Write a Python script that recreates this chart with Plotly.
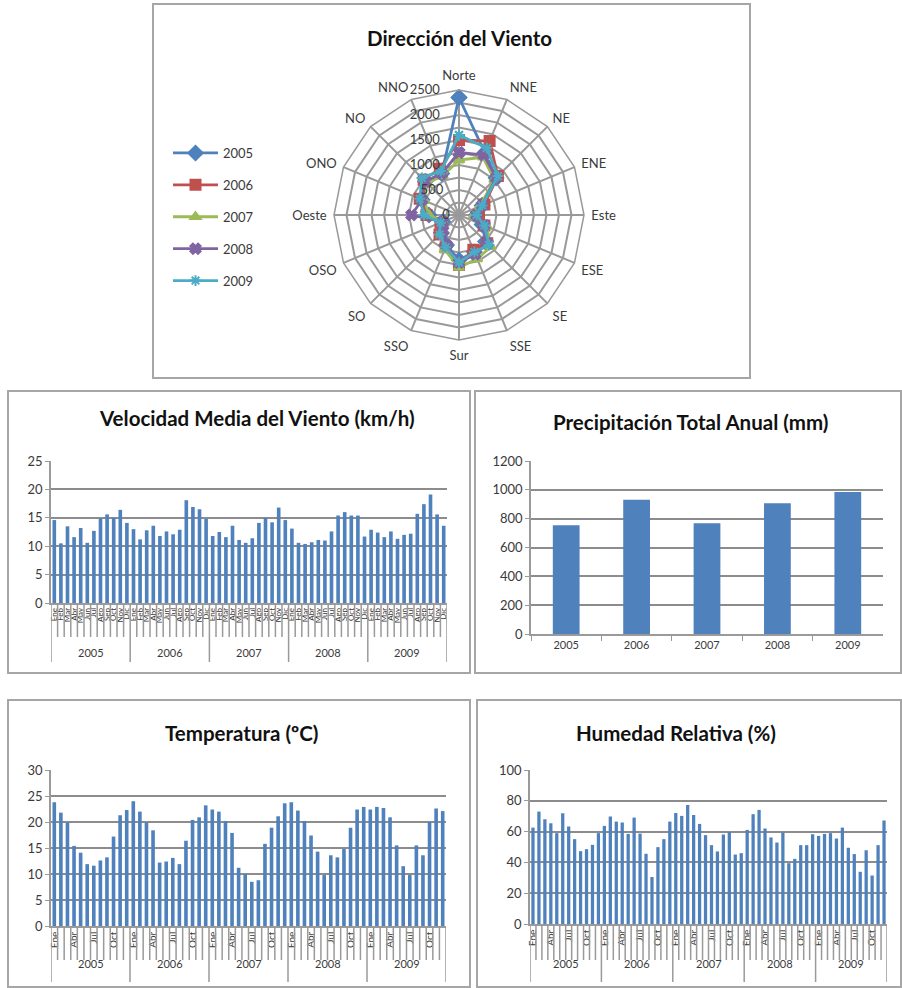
import plotly.graph_objects as go

W, H = 902, 988
def px(x):
    return x / W
def py(y):
    return 1 - y / H

# ---------------- data ----------------
DIRECTIONS = ["Norte", "NNE", "NE", "ENE", "Este", "ESE", "SE", "SSE",
              "Sur", "SSO", "SO", "OSO", "Oeste", "ONO", "NO", "NNO"]
YEARS = ["2005", "2006", "2007", "2008", "2009"]
MONTHS = ["Ene", "Feb", "Mar", "Abr", "May", "Jun", "Jul", "Ago", "Sep", "Oct", "Nov", "Dic"]

DIR_2005 = [2350, 1350, 1050, 500, 350, 500, 750, 800, 900, 650, 500, 350, 600, 800, 950, 900]
DIR_2006 = [1500, 1600, 1100, 550, 400, 550, 800, 750, 1000, 700, 550, 400, 650, 850, 1000, 1000]
DIR_2007 = [1100, 1250, 1000, 450, 300, 600, 900, 950, 1050, 750, 500, 350, 600, 750, 900, 850]
DIR_2008 = [1250, 1300, 1050, 500, 350, 550, 800, 850, 950, 650, 450, 350, 950, 800, 950, 900]
DIR_2009 = [1600, 1450, 1100, 500, 350, 550, 850, 800, 950, 700, 550, 400, 700, 850, 1050, 950]

RADIAL_TICKS = [0, 250, 500, 750, 1000, 1250, 1500, 1750, 2000, 2250, 2500]
RADIAL_LABELS = ["0", "", "500", "", "1000", "", "1500", "", "2000", "", "2500"]

WIND_SPEED = [14.6, 10.5, 13.5, 11.6, 13.2, 10.6, 12.7, 14.9, 15.6, 15.0, 16.4, 14.1,
              13.0, 11.2, 12.8, 13.6, 11.8, 12.6, 12.1, 12.9, 18.1, 16.9, 16.5, 14.8,
              11.8, 12.5, 11.6, 13.6, 11.1, 10.6, 11.4, 14.1, 15.0, 14.2, 16.8, 14.6,
              13.1, 10.6, 10.4, 10.7, 11.1, 11.0, 12.6, 15.4, 16.0, 15.4, 15.4, 11.7,
              12.9, 12.4, 11.6, 12.6, 11.3, 12.0, 12.2, 15.7, 17.4, 19.1, 15.6, 13.6]

PRECIP = [755, 932, 768, 907, 985]

TEMPERATURE = [23.8, 21.8, 19.9, 15.4, 14.1, 11.9, 11.6, 12.6, 13.2, 17.2, 21.3, 22.3,
               24.0, 22.0, 19.9, 18.4, 12.2, 12.4, 13.1, 11.9, 16.4, 20.4, 20.9, 23.2,
               22.4, 22.0, 20.2, 17.9, 11.2, 10.0, 8.5, 8.8, 15.8, 18.9, 21.1, 23.6,
               23.8, 22.2, 20.2, 17.4, 14.3, 9.8, 13.6, 13.2, 14.8, 18.9, 22.4, 22.9,
               22.4, 22.9, 22.7, 20.9, 15.5, 11.5, 9.8, 15.5, 13.6, 20.0, 22.6, 22.1]

HUMIDITY = [62.6, 73.0, 68.0, 65.4, 59.0, 71.9, 63.3, 55.1, 47.3, 48.6, 51.4, 59.0,
            63.7, 69.8, 66.5, 65.9, 58.5, 69.1, 58.7, 45.6, 30.5, 49.9, 55.1, 66.5,
            72.1, 70.2, 77.3, 70.8, 65.0, 57.7, 51.2, 47.1, 58.1, 59.8, 45.1, 46.0,
            61.1, 71.3, 74.1, 62.0, 56.2, 52.9, 59.4, 39.5, 42.3, 51.2, 51.2, 58.3,
            57.2, 58.5, 59.0, 55.5, 62.6, 49.5, 45.4, 33.9, 47.9, 31.5, 51.2, 67.2]

# ---------------- styles ----------------
FONT = "Lato"
BAR_COLOR = "#4F81BD"
GRID = "#8c8c8c"
AXIS = "#9a9a9a"
TXT = "#3a3a3a"
SERIES_COLORS = ["#4F81BD", "#C0504D", "#9BBB59", "#8064A2", "#4BACC6"]
SERIES_SYMBOLS = ["diamond", "square", "triangle-up", "x", "asterisk-open"]
SERIES_SIZES = [11, 10, 9, 9, 9]

fig = go.Figure()

# ---------------- radar ----------------
for yr, vals, col, sym, sz in zip(YEARS, [DIR_2005, DIR_2006, DIR_2007, DIR_2008, DIR_2009],
                                   SERIES_COLORS, SERIES_SYMBOLS, SERIES_SIZES):
    fig.add_trace(go.Scatterpolar(
        r=vals + [vals[0]], theta=DIRECTIONS + [DIRECTIONS[0]],
        mode="lines+markers", name=yr, legendgroup=yr,
        line=dict(color=col, width=2.8),
        marker=dict(symbol=sym, size=sz, color=col, line=dict(color=col, width=2)),
        subplot="polar"))

# ---------------- bars ----------------
idx = list(range(len(WIND_SPEED)))
fig.add_trace(go.Bar(x=idx, y=WIND_SPEED, xaxis="x", yaxis="y", width=0.55,
                     marker=dict(color=BAR_COLOR), showlegend=False))
fig.add_trace(go.Bar(x=YEARS, y=PRECIP, xaxis="x2", yaxis="y2", width=0.38,
                     marker=dict(color=BAR_COLOR), showlegend=False))
fig.add_trace(go.Bar(x=list(range(len(TEMPERATURE))), y=TEMPERATURE, xaxis="x3", yaxis="y3",
                     width=0.55, marker=dict(color=BAR_COLOR), showlegend=False))
fig.add_trace(go.Bar(x=list(range(len(HUMIDITY))), y=HUMIDITY, xaxis="x4", yaxis="y4",
                     width=0.55, marker=dict(color=BAR_COLOR), showlegend=False))

def yax(domain, rng, dtick, anchor):
    return dict(domain=domain, range=rng, dtick=dtick, anchor=anchor, automargin=False,
                showgrid=True, gridcolor=GRID, gridwidth=1.5,
                showline=True, linecolor=AXIS, linewidth=1.5,
                ticks="outside", ticklen=4, tickcolor=AXIS,
                tickfont=dict(size=13, color=TXT, family=FONT), zeroline=False, fixedrange=True)

n = len(TEMPERATURE)
all_vals = list(range(n))
all_text = [MONTHS[i % 12] for i in range(n)]
q_vals = [i for i in range(n) if i % 3 == 0]
q_text = [MONTHS[i % 12] for i in q_vals]

def xmonth(domain, anchor, tv, tt, fs):
    return dict(domain=domain, anchor=anchor, range=[-0.5, n - 0.5], automargin=False,
                tickmode="array", tickvals=tv, ticktext=tt, tickangle=-90,
                tickfont=dict(size=fs, color=TXT, family=FONT),
                showgrid=False, zeroline=False, showline=True, linecolor=AXIS,
                linewidth=1.5, ticks="", fixedrange=True)

# radial labels sit to the left of the north spoke (right-aligned against it)
NBSP = "\u00a0"
radial_text = [t + NBSP * (round((7.5 * len(t) + 6) / 7) if t else 0) for t in RADIAL_LABELS]

# pixel geometry of each panel's plot area
WS = dict(x0=51, x1=447, y0=603, y1=461, mrow=637, yrow=662, ylab=652)
PR = dict(x0=531, x1=883, y0=634, y1=461)
TE = dict(x0=51, x1=446, y0=926, y1=770, mrow=960, yrow=982, ylab=972)
HU = dict(x0=530, x1=887, y0=924, y1=770, mrow=960, yrow=982, ylab=972)

layout = dict(
    width=W, height=H, margin=dict(l=0, r=0, t=0, b=0, pad=0, autoexpand=False),
    template="none",
    paper_bgcolor="white", plot_bgcolor="rgba(0,0,0,0)",
    font=dict(family=FONT, color=TXT),
    bargap=0.4,
    xaxis=xmonth([px(WS["x0"]), px(WS["x1"])], "y", all_vals, all_text, 8),
    yaxis=yax([py(WS["y0"]), py(WS["y1"])], [0, 25], 5, "x"),
    xaxis2=dict(domain=[px(PR["x0"]), px(PR["x1"])], anchor="y2", type="category",
                automargin=False,
                tickson="boundaries", ticks="outside", ticklen=5, tickcolor=AXIS,
                showline=True, linecolor=AXIS, linewidth=1.5, showgrid=False,
                tickfont=dict(size=11, color=TXT, family=FONT), fixedrange=True),
    yaxis2=yax([py(PR["y0"]), py(PR["y1"])], [0, 1200], 200, "x2"),
    xaxis3=xmonth([px(TE["x0"]), px(TE["x1"])], "y3", q_vals, q_text, 10),
    yaxis3=yax([py(TE["y0"]), py(TE["y1"])], [0, 30], 5, "x3"),
    xaxis4=xmonth([px(HU["x0"]), px(HU["x1"])], "y4", q_vals, q_text, 10),
    yaxis4=yax([py(HU["y0"]), py(HU["y1"])], [0, 100], 20, "x4"),
    polar=dict(
        domain=dict(x=[px(334), px(584)], y=[py(340), py(90)]),
        gridshape="linear", bgcolor="rgba(0,0,0,0)",
        angularaxis=dict(rotation=90, direction="clockwise", type="category",
                         categoryorder="array", categoryarray=DIRECTIONS,
                         gridcolor="#999999", gridwidth=1.5, showline=True,
                         linecolor="#999999", linewidth=1.5,
                         ticks="outside", ticklen=4, tickcolor="rgba(0,0,0,0)",
                         tickfont=dict(size=13, color=TXT, family=FONT)),
        radialaxis=dict(range=[0, 2500], tickmode="array", tickvals=RADIAL_TICKS,
                        ticktext=radial_text, angle=90, tickangle=90,
                        side="counterclockwise", gridcolor="#999999", gridwidth=1.5,
                        showline=False, ticks="",
                        tickfont=dict(size=13, color=TXT, family=FONT)),
    ),
    legend=dict(x=px(168), y=py(138), xanchor="left", yanchor="top",
                font=dict(size=13, color=TXT, family=FONT), tracegroupgap=12,
                itemwidth=45, bgcolor="rgba(0,0,0,0)", borderwidth=0),
)

shapes = []
# panel borders
for (x0, y0, x1, y1) in [(153, 4, 750, 378), (8, 391, 470, 673), (475, 391, 901, 673),
                         (8, 700, 470, 987), (477, 700, 901, 987)]:
    shapes.append(dict(type="rect", xref="paper", yref="paper",
                       x0=px(x0), x1=px(x1), y0=py(y1), y1=py(y0),
                       line=dict(color="#a6a6a6", width=2), fillcolor="rgba(0,0,0,0)",
                       layer="below"))

annotations = []
# multi-level category separators and year labels
for xr, g in [("x", WS), ("x3", TE), ("x4", HU)]:
    for b in range(n + 1):
        bottom = g["yrow"] if b % 12 == 0 else g["mrow"]
        shapes.append(dict(type="line", xref=xr, yref="paper", x0=b - 0.5, x1=b - 0.5,
                           y0=py(g["y0"]), y1=py(bottom), line=dict(color=AXIS, width=1.5)))
    for k, yr in enumerate(YEARS):
        annotations.append(dict(x=12 * k + 5.5, y=py(g["ylab"]), xref=xr, yref="paper",
                                text=yr, showarrow=False, xanchor="center",
                                font=dict(size=11, color=TXT, family=FONT)))

# titles
for text, cx, cy in [("Dirección del Viento", 459, 38),
                     ("Velocidad Media del Viento (km/h)", 257, 418),
                     ("Precipitación Total Anual (mm)", 690, 422),
                     ("Temperatura (ºC)", 241, 733),
                     ("Humedad Relativa (%)", 676, 733)]:
    annotations.append(dict(x=px(cx), y=py(cy), xref="paper", yref="paper",
                            xanchor="center", yanchor="middle",
                            text="<b>" + text + "</b>", showarrow=False,
                            font=dict(size=20.5, color="#111", family=FONT)))

layout["shapes"] = shapes
layout["annotations"] = annotations
fig.update_layout(**layout)

fig.write_html("out.html",
               post_script="document.body.style.margin='0px';document.body.style.overflow='hidden';")
